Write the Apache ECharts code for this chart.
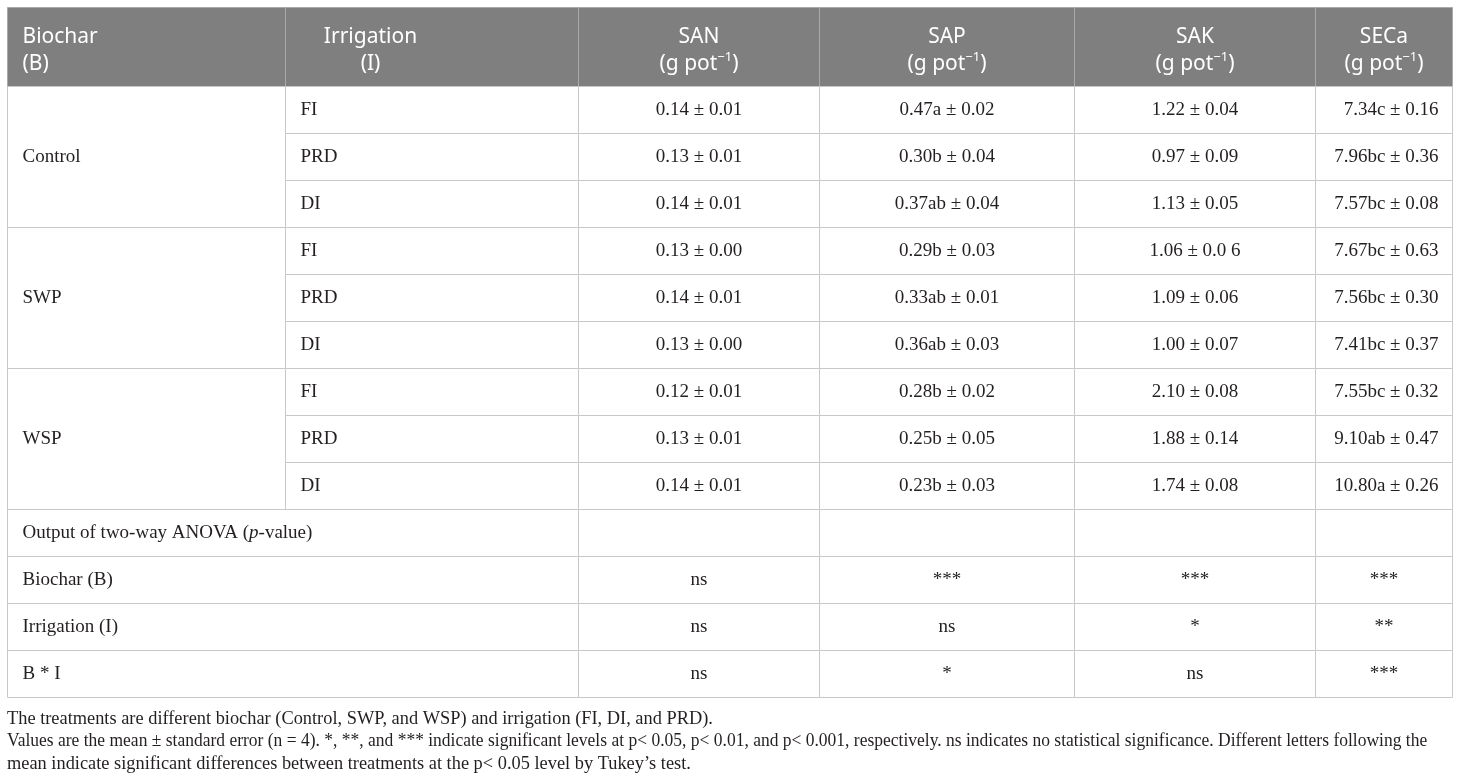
<!DOCTYPE html>
<html>
<head>
<meta charset="utf-8">
<script src="https://cdn.jsdelivr.net/npm/echarts@6/dist/echarts.min.js"></script>
<style>
html,body{margin:0;padding:0;background:#fff;}
#main{width:1460px;height:782px;}
</style>
</head>
<body>
<div id="main"></div>
<script>
/* table content */
let biochar = ['Control','SWP','WSP'];
let irrigation = ['FI','PRD','DI'];
let measures = ['SAN','SAP','SAK','SECa'];
let san = ['0.14 ± 0.01','0.13 ± 0.01','0.14 ± 0.01','0.13 ± 0.00','0.14 ± 0.01','0.13 ± 0.00','0.12 ± 0.01','0.13 ± 0.01','0.14 ± 0.01'];
let sap = ['0.47a ± 0.02','0.30b ± 0.04','0.37ab ± 0.04','0.29b ± 0.03','0.33ab ± 0.01','0.36ab ± 0.03','0.28b ± 0.02','0.25b ± 0.05','0.23b ± 0.03'];
let sak = ['1.22 ± 0.04','0.97 ± 0.09','1.13 ± 0.05','1.06 ± 0.0 6','1.09 ± 0.06','1.00 ± 0.07','2.10 ± 0.08','1.88 ± 0.14','1.74 ± 0.08'];
let seca = ['7.34c ± 0.16','7.96bc ± 0.36','7.57bc ± 0.08','7.67bc ± 0.63','7.56bc ± 0.30','7.41bc ± 0.37','7.55bc ± 0.32','9.10ab ± 0.47','10.80a ± 0.26'];
let anovaTerms = ['Biochar (B)','Irrigation (I)','B * I'];
let anovaSAN = ['ns','ns','ns'];
let anovaSAP = ['***','ns','*'];
let anovaSAK = ['***','*','ns'];
let anovaSECa = ['***','**','***'];
let notes = [
    'The treatments are different biochar (Control, SWP, and WSP) and irrigation (FI, DI, and PRD).',
    'Values are the mean ± standard error (n = 4). *, **, and *** indicate significant levels at p< 0.05, p< 0.01, and p< 0.001, respectively. ns indicates no statistical significance. Different letters following the',
    'mean indicate significant differences between treatments at the p< 0.05 level by Tukey\u2019s test.'
];

/* layout (axis units) */
let colEdge = [0,278,571,812,1067,1308,1445];
let headH = 79, rowH = 47;
let rowTop = r => headH + r * rowH;

let cells = [];
function addCell(c0, c1, y0, y1, text, align, kind){
    cells.push({c0:c0, c1:c1, y0:y0, y1:y1, text:text, align:align, kind:kind});
}
/* header */
addCell(0,1,0,headH,'Biochar\n(B)','left','head');
addCell(1,2,0,headH,'Irrigation\n(I)','irr','head');
measures.forEach((m,i)=>{
    addCell(2+i,3+i,0,headH,m + '\n(g pot{sup|\u22121})','center','head');
});
/* body */
let cols = [san,sap,sak,seca];
biochar.forEach((b,bi)=>{
    addCell(0,1,rowTop(bi*3),rowTop(bi*3+3),b,'left','body');
    irrigation.forEach((ir,ii)=>{
        let r = bi*3+ii;
        addCell(1,2,rowTop(r),rowTop(r+1),ir,'left','body');
        cols.forEach((col,ci)=>{
            addCell(2+ci,3+ci,rowTop(r),rowTop(r+1),col[r],ci===3?'right':'center','body');
        });
    });
});
addCell(0,2,rowTop(9),rowTop(10),'Output of two-way ANOVA ({it|p}-value)','left','body');
for(let ci=0;ci<4;ci++) addCell(2+ci,3+ci,rowTop(9),rowTop(10),'','center','body');
let anovaCols = [anovaSAN,anovaSAP,anovaSAK,anovaSECa];
anovaTerms.forEach((t,ti)=>{
    let r = 10+ti;
    addCell(0,2,rowTop(r),rowTop(r+1),t,'left','body');
    anovaCols.forEach((col,ci)=>{
        addCell(2+ci,3+ci,rowTop(r),rowTop(r+1),col[ti],'center','body');
    });
});

let serif = '"Liberation Serif", "DejaVu Serif", serif';
let sans = '"Noto Sans", "Open Sans", sans-serif';

function renderCell(params, api){
    let c = cells[params.dataIndex];
    let p0 = api.coord([api.value(0), api.value(1)]);
    let p1 = api.coord([api.value(2), api.value(3)]);
    let x0 = Math.round(p0[0]) + 0.5, y0 = Math.round(p0[1]) + 0.5;
    let x1 = Math.round(p1[0]) + 0.5, y1 = Math.round(p1[1]) + 0.5;
    let isHead = c.kind === 'head';
    let tx, align = 'center';
    if(c.align === 'left'){ tx = x0 + 15; align = 'left'; }
    else if(c.align === 'right'){ tx = x1 - 14; align = 'right'; }
    else if(c.align === 'irr'){ tx = x0 + 85; }
    else { tx = (x0 + x1) / 2; }
    let children = [{
        type:'rect',
        shape:{x:x0, y:y0, width:x1-x0, height:y1-y0},
        style:{fill:isHead?'#7f7f7f':'#fff', stroke:isHead?'#a9a9a9':'#c8c8c8', lineWidth:1}
    }];
    if(c.text){
        children.push({
            type:'text',
            x:tx,
            y:(y0 + y1) / 2 + (isHead ? 3.5 : 0),
            style:{
                text:c.text,
                align:align,
                verticalAlign:'middle',
                fill:isHead?'#fff':'#231f20',
                fontFamily:isHead?sans:serif,
                fontSize:isHead?21:19,
                lineHeight:isHead?27:22,
                rich:{
                    sup:{fontSize:13, fontFamily:sans, fill:'#fff', verticalAlign:'top'},
                    it:{fontStyle:'italic', fontFamily:serif, fontSize:19, fill:'#231f20'}
                }
            }
        });
    }
    return {type:'group', children:children};
}

let chart = echarts.init(document.getElementById('main'));
let option = {
    animation:false,
    grid:{left:7, top:7, width:1445, height:690},
    xAxis:{type:'value', min:0, max:colEdge[colEdge.length-1], show:false},
    yAxis:{type:'value', min:0, max:rowTop(13), inverse:true, show:false},
    series:[{
        type:'custom',
        renderItem:renderCell,
        silent:true,
        clip:false,
        data:cells.map(c=>[colEdge[c.c0], c.y0, colEdge[c.c1], c.y1])
    }],
    graphic:notes.map((n,i)=>({
        type:'text',
        x:7,
        y:719 + i * 22.7,
        scaleX:i === 1 ? 0.972 : 1.02,
        silent:true,
        style:{text:n, fill:'#231f20', font:'18px ' + serif, verticalAlign:'middle'}
    }))
};
chart.setOption(option);
</script>
</body>
</html>
